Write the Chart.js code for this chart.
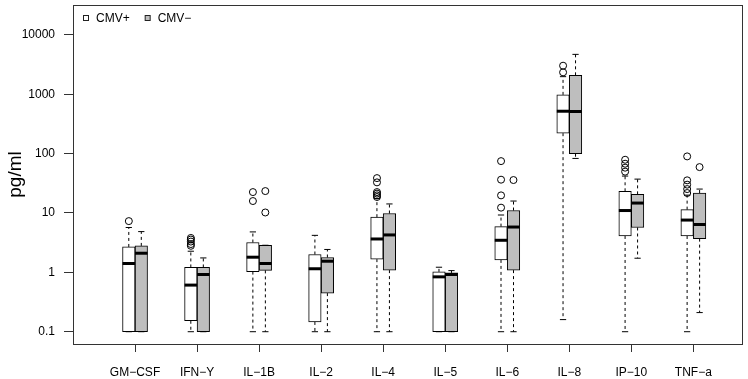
<!DOCTYPE html>
<html>
<head>
<meta charset="utf-8">
<script src="https://cdn.jsdelivr.net/npm/chart.js@4.4.1/dist/chart.umd.min.js"></script>
<style>
  html, body { margin: 0; padding: 0; background: #fff; }
  #wrap { width: 748px; height: 379px; }
</style>
</head>
<body>
<div id="wrap"><canvas id="cytokineChart" width="748" height="379"></canvas></div>
<script>
// Cytokine levels, CMV+ vs CMV- (pg/ml)
const categories = ['GM\u2212CSF', 'IFN\u2212Y', 'IL\u22121B', 'IL\u22122', 'IL\u22124', 'IL\u22125', 'IL\u22126', 'IL\u22128', 'IP\u221210', 'TNF\u2212a'];
const seriesNames = ['CMV+', 'CMV\u2212'];
const yTicks = [0.1, 1, 10, 100, 1000, 10000];

// CMV+ boxes
const posLow  = [0.1, 0.1, 0.1, 0.1, 0.1, 0.1, 0.1, 0.16, 0.1, 0.1];
const posQ1   = [0.1, 0.153, 1.03, 0.146, 1.67, 0.1, 1.62, 221, 4.1, 4.1];
const posMed  = [1.41, 0.61, 1.8, 1.15, 3.65, 0.84, 3.47, 518, 11, 7.6];
const posQ3   = [2.68, 1.21, 3.18, 2.0, 8.5, 1.02, 5.9, 977, 23.2, 11.4];
const posHigh = [5.7, 2.27, 4.8, 4.2, 17.5, 1.22, 9.25, 1980, 41.9, 20];
const posOut  = [[7.3], [2.8, 3.0, 3.3, 3.57, 3.8], [15.9, 22.5], [], [18.6, 19.8, 21.2, 22.5, 32.8, 38.7], [], [12.3, 19.8, 36.4, 74.8], [2340, 3030], [49.7, 58, 67.6, 78.9], [21.7, 25.3, 30, 35.5, 89.8]];

// CMV- boxes
const negLow  = [0.1, 0.1, 0.1, 0.1, 0.1, 0.1, 0.1, 83, 1.73, 0.21];
const negQ1   = [0.1, 0.1, 1.08, 0.447, 1.09, 0.1, 1.09, 99.6, 5.7, 3.7];
const negMed  = [2.1, 0.92, 1.41, 1.54, 4.27, 0.92, 5.8, 512, 14.7, 6.4];
const negQ3   = [2.79, 1.21, 2.86, 1.78, 9.8, 0.98, 11, 2085, 20.6, 21.7];
const negHigh = [4.86, 1.75, 2.86, 2.43, 14.2, 1.07, 15.9, 4700, 37.2, 25.3];
const negOut  = [[], [], [10.2, 23.4], [], [], [], [35.9], [], [], [59.3]];

const fillColors = ['#ffffff', '#bebebe'];
const fontFamily = '"Liberation Sans", Arial, Helvetica, sans-serif';

// box from q1 to q3, one per category
function boxData(q1, q3) {
    return categories.map((c, i) => ({ x: i, y: [q1[i], q3[i]] }));
}

// outlier points, shifted to sit over their own box
function outlierData(outs, shift) {
    const pts = [];
    outs.forEach((list, i) => list.forEach(v => pts.push({ x: i + shift, y: v })));
    return pts;
}

const stats = [
    { low: posLow, q1: posQ1, med: posMed, q3: posQ3, high: posHigh },
    { low: negLow, q1: negQ1, med: negMed, q3: negQ3, high: negHigh }
];

// whiskers, staples, medians, frame and legend
const boxplotExtras = {
    id: 'boxplotExtras',
    afterDatasetsDraw(chart) {
        const ctx = chart.ctx;
        const y = chart.scales.y;
        ctx.save();
        ctx.strokeStyle = '#000';
        stats.forEach((s, d) => {
            const meta = chart.getDatasetMeta(d);
            meta.data.forEach((bar, i) => {
                const cx = bar.x;
                const w = bar.width;
                const yLow = y.getPixelForValue(s.low[i]);
                const yHigh = y.getPixelForValue(s.high[i]);
                const yQ1 = y.getPixelForValue(s.q1[i]);
                const yQ3 = y.getPixelForValue(s.q3[i]);
                // dashed whiskers
                ctx.lineWidth = 1;
                ctx.setLineDash([3, 3]);
                ctx.beginPath();
                ctx.moveTo(cx, yQ3); ctx.lineTo(cx, yHigh);
                ctx.moveTo(cx, yQ1); ctx.lineTo(cx, yLow);
                ctx.stroke();
                // staples
                ctx.setLineDash([]);
                ctx.beginPath();
                ctx.moveTo(cx - w / 4, yHigh); ctx.lineTo(cx + w / 4, yHigh);
                ctx.moveTo(cx - w / 4, yLow); ctx.lineTo(cx + w / 4, yLow);
                ctx.stroke();
                // median
                const yMed = y.getPixelForValue(s.med[i]);
                ctx.lineWidth = 3;
                ctx.beginPath();
                ctx.moveTo(cx - w / 2, yMed); ctx.lineTo(cx + w / 2, yMed);
                ctx.stroke();
            });
        });
        ctx.restore();
    },
    afterDraw(chart) {
        const ctx = chart.ctx;
        const a = chart.chartArea;
        ctx.save();
        ctx.strokeStyle = '#333';
        ctx.lineWidth = 1;
        ctx.strokeRect(Math.round(a.left) + 0.5, Math.round(a.top) + 0.5,
            Math.round(a.right - a.left) - 1, Math.round(a.bottom - a.top));

        // legend, top left inside the frame
        ctx.font = '12px ' + fontFamily;
        ctx.textBaseline = 'middle';
        let lx = a.left + 10;
        const ly = a.top + 13;
        seriesNames.forEach((name, k) => {
            ctx.fillStyle = fillColors[k];
            ctx.fillRect(lx + 0.5, ly - 2.5, 5, 5);
            ctx.strokeStyle = '#222';
            ctx.strokeRect(lx + 0.5, ly - 2.5, 5, 5);
            ctx.fillStyle = '#000';
            ctx.fillText(name, lx + 13, ly + 0.5);
            lx += 13 + ctx.measureText(name).width + 15;
        });
        ctx.restore();
    }
};

const ctx = document.getElementById('cytokineChart').getContext('2d');

const cytokineChart = new Chart(ctx, {
    type: 'bar',
    data: {
        datasets: [
            {
                label: seriesNames[0],
                data: boxData(posQ1, posQ3),
                backgroundColor: fillColors[0],
                borderColor: '#000',
                borderWidth: 1,
                borderSkipped: false,
                barThickness: 12.5,
                order: 2
            },
            {
                label: seriesNames[1],
                data: boxData(negQ1, negQ3),
                backgroundColor: fillColors[1],
                borderColor: '#000',
                borderWidth: 1,
                borderSkipped: false,
                barThickness: 12.5,
                order: 2
            },
            {
                type: 'scatter',
                label: seriesNames[0] + ' outliers',
                data: outlierData(posOut, -0.1),
                pointStyle: 'circle',
                pointRadius: 3.5,
                borderWidth: 1,
                borderColor: '#000',
                backgroundColor: 'rgba(0,0,0,0)',
                order: 1
            },
            {
                type: 'scatter',
                label: seriesNames[1] + ' outliers',
                data: outlierData(negOut, 0.1),
                pointStyle: 'circle',
                pointRadius: 3.5,
                borderWidth: 1,
                borderColor: '#000',
                backgroundColor: 'rgba(0,0,0,0)',
                order: 1
            }
        ]
    },
    options: {
        responsive: false,
        animation: false,
        devicePixelRatio: 1,
        events: [],
        layout: { padding: { top: 4, right: 4, left: 0, bottom: 0 } },
        plugins: {
            legend: { display: false },
            tooltip: { enabled: false }
        },
        scales: {
            x: {
                type: 'linear',
                min: -1,
                max: 9.8,
                offset: false,
                afterBuildTicks: s => { s.ticks = categories.map((c, i) => ({ value: i })); },
                afterFit: s => { s.height = 35; s.paddingLeft = 0; s.paddingRight = 0; },
                ticks: {
                    callback: v => categories[v],
                    autoSkip: false,
                    maxRotation: 0,
                    padding: 13,
                    color: '#000',
                    font: { family: fontFamily, size: 12 }
                },
                grid: { offset: false, drawOnChartArea: false, tickLength: 8, color: '#333' },
                border: { display: false }
            },
            y: {
                type: 'logarithmic',
                min: 0.0621,
                max: 31900,
                afterBuildTicks: s => { s.ticks = yTicks.map(v => ({ value: v })); },
                afterFit: s => { s.width = 73; s.paddingTop = 0; s.paddingBottom = 0; },
                ticks: {
                    callback: v => String(v),
                    padding: 9,
                    color: '#000',
                    font: { family: fontFamily, size: 12 }
                },
                grid: { drawOnChartArea: false, tickLength: 9, color: '#333' },
                border: { display: false },
                title: {
                    display: true,
                    text: 'pg/ml',
                    color: '#000',
                    font: { family: fontFamily, size: 19 },
                    padding: { top: 4, bottom: 0 }
                }
            }
        }
    },
    plugins: [boxplotExtras]
});
</script>
</body>
</html>
